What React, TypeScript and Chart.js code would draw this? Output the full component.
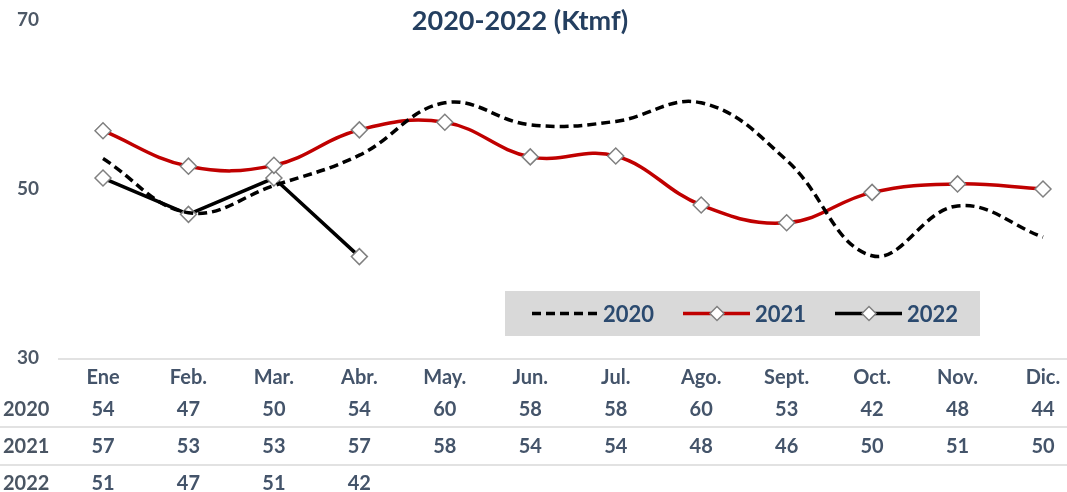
import React, { useEffect, useRef } from "react";
import { Chart, registerables } from "chart.js";

Chart.register(...registerables);

const months = ["Ene", "Feb.", "Mar.", "Abr.", "May.", "Jun.", "Jul.", "Ago.", "Sept.", "Oct.", "Nov.", "Dic."];
const seriesNames = ["2020", "2021", "2022"];
const values2020 = [53.6, 47.2, 50.4, 54, 60.2, 57.6, 58, 60.2, 53.4, 42.1, 48, 44.3];
const values2021 = [56.9, 52.7, 52.8, 57, 57.9, 53.8, 53.9, 48.1, 46, 49.6, 50.6, 50];
const values2022 = [51.3, 47, 51.3, 42];
const yTicks = [30, 50, 70];
const titleText = "2020-2022 (Ktmf)";

const FONT = "Lato, 'Open Sans', sans-serif";
const TEXT_COLOR = "#44546a";

const tablePlugin = {
  id: "tableAndDecor",
  afterDraw(chart: any) {
    const ctx = chart.ctx as CanvasRenderingContext2D;
    const xs = chart.scales.x;
    const W = chart.width;
    ctx.save();
    ctx.font = `bold 27px ${FONT}`;
    ctx.fillStyle = "#243f60";
    ctx.textAlign = "center";
    ctx.textBaseline = "middle";
    ctx.fillText(titleText, 520, 21);

    ctx.strokeStyle = "#d9d9d9";
    ctx.lineWidth = 1.5;
    ctx.beginPath();
    ctx.moveTo(58, 359);
    ctx.lineTo(W, 359);
    ctx.moveTo(0, 427);
    ctx.lineTo(W, 427);
    ctx.moveTo(0, 465);
    ctx.lineTo(W, 465);
    ctx.stroke();

    const rows = [values2020, values2021, values2022];
    const rowY = [410, 447, 484];
    ctx.font = `bold 20px ${FONT}`;
    ctx.textBaseline = "middle";
    rows.forEach((vals, r) => {
      ctx.fillStyle = "#4a5563";
      ctx.textAlign = "left";
      ctx.fillText(seriesNames[r], 3, rowY[r]);
      ctx.fillStyle = TEXT_COLOR;
      ctx.textAlign = "center";
      vals.forEach((v, i) => {
        ctx.fillText(String(Math.round(v)), xs.getPixelForValue(i), rowY[r]);
      });
    });

    const lx = 505, ly = 291, lw = 475, lh = 45;
    ctx.fillStyle = "#d9d9d9";
    ctx.fillRect(lx, ly, lw, lh);
    const cy = ly + lh / 2;
    const items = [
      { x0: 532, color: "#000000", dash: [9, 5], marker: false, tx: 603 },
      { x0: 683, color: "#c00000", dash: [], marker: true, tx: 755 },
      { x0: 835, color: "#000000", dash: [], marker: true, tx: 907 },
    ];
    items.forEach((it, k) => {
      ctx.strokeStyle = it.color;
      ctx.lineWidth = 3.5;
      ctx.setLineDash(it.dash);
      ctx.beginPath();
      ctx.moveTo(it.x0, cy);
      ctx.lineTo(it.x0 + 67, cy);
      ctx.stroke();
      ctx.setLineDash([]);
      if (it.marker) {
        const mx = it.x0 + 34;
        const s = 7;
        ctx.beginPath();
        ctx.moveTo(mx, cy - s);
        ctx.lineTo(mx + s, cy);
        ctx.lineTo(mx, cy + s);
        ctx.lineTo(mx - s, cy);
        ctx.closePath();
        ctx.fillStyle = "#ffffff";
        ctx.fill();
        ctx.strokeStyle = "#808080";
        ctx.lineWidth = 1.5;
        ctx.stroke();
      }
      ctx.font = `bold 22px ${FONT}`;
      ctx.fillStyle = "#2b4a6f";
      ctx.textAlign = "left";
      ctx.textBaseline = "middle";
      ctx.fillText(seriesNames[k], it.tx, cy + 1);
    });
    ctx.restore();
  },
};

export default function App() {
  const ref = useRef<HTMLCanvasElement | null>(null);

  useEffect(() => {
    document.body.style.margin = "0";
    if (!ref.current) return;
    const markerCommon = {
      pointStyle: "rectRot" as const,
      pointRadius: 8,
      pointHoverRadius: 8,
      pointBackgroundColor: "#ffffff",
      pointBorderColor: "#808080",
      pointBorderWidth: 1.5,
    };
    const chart = new Chart(ref.current, {
      type: "line",
      data: {
        labels: months,
        datasets: [
          {
            label: seriesNames[0],
            data: values2020,
            borderColor: "#000000",
            borderWidth: 3.5,
            borderDash: [9, 5],
            pointRadius: 0,
            tension: 0.4,
            fill: false,
          },
          {
            label: seriesNames[1],
            data: values2021,
            borderColor: "#c00000",
            borderWidth: 3.5,
            tension: 0.4,
            fill: false,
            ...markerCommon,
          },
          {
            label: seriesNames[2],
            data: values2022,
            borderColor: "#000000",
            borderWidth: 3.5,
            tension: 0,
            fill: false,
            ...markerCommon,
          },
        ],
      },
      options: {
        animation: false,
        responsive: false,
        maintainAspectRatio: false,
        devicePixelRatio: 1,
        layout: { padding: { top: 20, right: 24, left: 0, bottom: 0 } },
        plugins: {
          legend: { display: false },
          title: { display: false },
          tooltip: { enabled: false },
        },
        scales: {
          x: {
            offset: false,
            grid: { display: false, drawTicks: false },
            border: { display: false },
            ticks: {
              font: { family: FONT, size: 20, weight: "bold" },
              color: TEXT_COLOR,
              padding: 8,
              maxRotation: 0,
              autoSkip: false,
            },
            afterFit: (axis: any) => {
              axis.height = 134;
              axis.paddingLeft = 0;
              axis.paddingRight = 0;
            },
          },
          y: {
            min: 30,
            max: 70,
            afterBuildTicks: (axis: any) => {
              axis.ticks = yTicks.map((v) => ({ value: v }));
            },
            grid: { display: false, drawTicks: false },
            border: { display: false },
            ticks: {
              font: { family: FONT, size: 19, weight: "bold" },
              color: "#4d5866",
              padding: 64,
            },
            afterFit: (axis: any) => {
              axis.width = 103;
              axis.paddingTop = 0;
              axis.paddingBottom = 0;
            },
          },
        },
      },
      plugins: [tablePlugin],
    });
    return () => chart.destroy();
  }, []);

  return (
    <div style={{ width: 1067, height: 492, background: "#ffffff" }}>
      <canvas ref={ref} width={1067} height={492} style={{ display: "block", width: 1067, height: 492 }} />
    </div>
  );
}
